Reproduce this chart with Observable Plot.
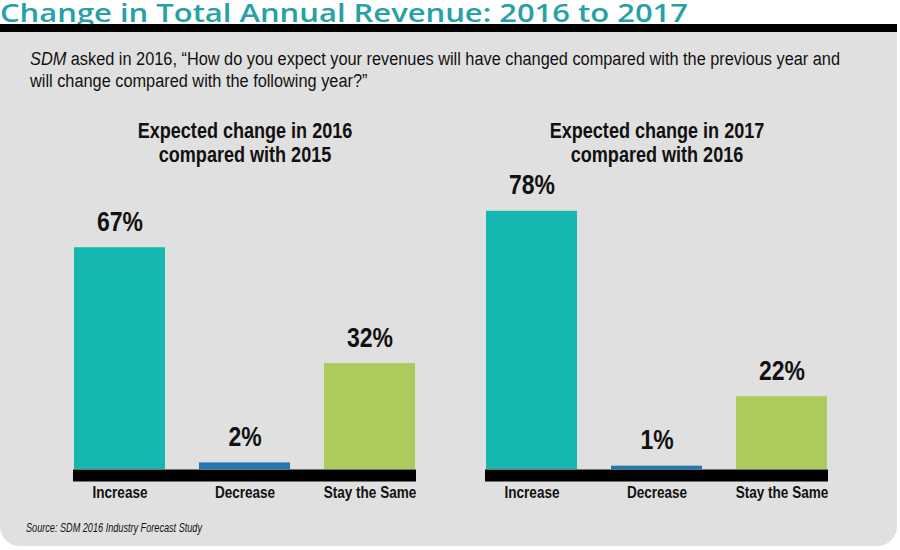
<!DOCTYPE html>
<html>
<head>
<meta charset="utf-8">
<script src="https://cdn.jsdelivr.net/npm/d3@7"></script>
<script src="https://cdn.jsdelivr.net/npm/@observablehq/plot@0.6"></script>
<style>
  html, body { margin: 0; padding: 0; background: #fff; }
  body { width: 900px; height: 550px; position: relative; overflow: hidden; }
  .narrow { font-family: "Liberation Sans", Arial, sans-serif; transform-origin: 0 0; white-space: nowrap; }
  #title {
    position: absolute; left: 0; top: 1px; margin: 0;
    font-family: "Open Sans", "Noto Sans", sans-serif; font-weight: 600;
    font-size: 25px; line-height: 22px; color: #27a1a5; white-space: nowrap;
    transform-origin: 0 0;
  }
  #topbar { position: absolute; left: 0; top: 24px; width: 897px; height: 8px; background: #000; }
  #panel {
    position: absolute; left: 0; top: 32px; width: 897px; height: 514px;
    background: #e1e0e0; border-bottom-left-radius: 20px; border-bottom-right-radius: 20px;
  }
  .qline {
    position: absolute; left: 30px; margin: 0;
    font-size: 18px; line-height: 22px; color: #111;
  }
  #chart { position: absolute; left: 0; top: 105px; }
  #source {
    position: absolute; left: 26px; top: 522px; margin: 0;
    font-size: 12px; line-height: 12px; font-style: italic; color: #111;
  }
</style>
</head>
<body>
<div id="title">Change in Total Annual Revenue: 2016 to 2017</div>
<div id="topbar"></div>
<div id="panel"></div>
<div class="qline narrow" style="top:48px" data-width="810"><i>SDM</i> asked in 2016, “How do you expect your revenues will have changed compared with the previous year and</div>
<div class="qline narrow" style="top:70px" data-width="0">will change compared with the following year?”</div>
<div id="chart"></div>
<div id="source" class="narrow" data-width="176">Source: SDM 2016 Industry Forecast Study</div>
<script>
// Survey answers, in percent of respondents
const categories = ["Increase", "Decrease", "Stay the Same"];
const panelTitles = [
  "Expected change in 2016\ncompared with 2015",
  "Expected change in 2017\ncompared with 2016"
];
const values2016 = [67, 2, 32];
const values2017 = [78, 1, 22];
const barColors = ["#14b8b1", "#2179b4", "#adcb5a"];

const rows = [
  ...categories.map((c, i) => ({panel: panelTitles[0], category: c, value: values2016[i]})),
  ...categories.map((c, i) => ({panel: panelTitles[1], category: c, value: values2017[i]}))
];

// Condensed look: glyphs are squeezed horizontally, as in a narrow face
const NARROW = 0.82;

const chart = Plot.plot({
  width: 900,
  height: 410,
  marginLeft: 72,
  marginRight: 71,
  marginTop: 33,
  marginBottom: 46,
  style: {background: "transparent", fontFamily: '"Liberation Sans", Arial, sans-serif', color: "#111", overflow: "visible"},
  fx: {domain: panelTitles, paddingInner: 0.167, paddingOuter: 0, axis: null},
  x: {domain: categories, paddingInner: 0.27, paddingOuter: 0, axis: null},
  y: {domain: [0, 100], axis: null},
  color: {domain: categories, range: barColors},
  marks: [
    Plot.barY(rows, {fx: "panel", x: "category", y: "value", fill: "category"}),
    Plot.ruleY([0], {stroke: "#000", strokeWidth: 12, dy: 6}),
    Plot.text(rows, {
      fx: "panel", x: "category", y: "value",
      text: d => `${d.value}%`,
      dy: -26, fontSize: 28, fontWeight: "bold", lineAnchor: "middle"
    }),
    Plot.axisX({
      tickSize: 0, tickPadding: 17, fontSize: 16.5, fontWeight: "bold", label: null
    }),
    Plot.text(panelTitles, {
      fx: d => d, text: d => d, frameAnchor: "top",
      lineAnchor: "bottom", dy: 23, fontSize: 22, fontWeight: "bold", lineHeight: 1.05
    })
  ]
});
document.getElementById("chart").appendChild(chart);

// squeeze every chart label to the condensed width
chart.querySelectorAll("text").forEach(t => {
  const parts = t.querySelectorAll("tspan");
  (parts.length ? Array.from(parts) : [t]).forEach(el => {
    const len = el.getComputedTextLength();
    if (len > 0) {
      el.setAttribute("textLength", (len * NARROW).toFixed(2));
      el.setAttribute("lengthAdjust", "spacingAndGlyphs");
    }
  });
});

// squeeze the HTML text lines the same way
const qlines = document.querySelectorAll(".narrow");
let qScale = NARROW;
qlines.forEach(el => {
  const target = +el.dataset.width;
  if (target > 0) {
    const s = target / el.getBoundingClientRect().width;
    if (el.classList.contains("qline")) qScale = s;
    el.style.transform = `scaleX(${s})`;
  }
});
qlines.forEach(el => {
  if (+el.dataset.width === 0) el.style.transform = `scaleX(${qScale})`;
});

// title is set in a wide face across the heading
const title = document.getElementById("title");
const tw = title.getBoundingClientRect().width;
title.style.transform = `scaleX(${688 / tw})`;
</script>
</body>
</html>
